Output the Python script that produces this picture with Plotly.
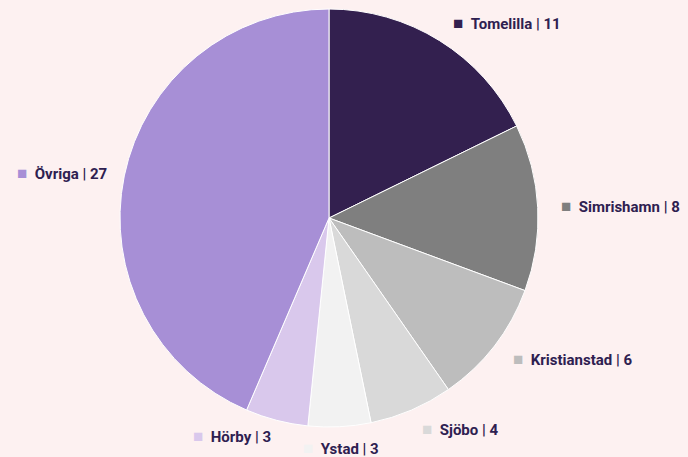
import math
import plotly.graph_objects as go

labels = ["Tomelilla", "Simrishamn", "Kristianstad", "Sjöbo", "Ystad", "Hörby", "Övriga"]
values = [11, 8, 6, 4, 3, 3, 27]
colors = ["#33204f", "#7f7f7f", "#bdbdbd", "#d9d9d9", "#f2f2f2", "#d9c8ec", "#a78fd6"]

W, H = 688, 457
BG = "#fdf1f1"
cx, cy, r = 329, 218, 209
r_lab_right = 230
r_lab_left = 225

fig = go.Figure(go.Pie(
    labels=labels,
    values=values,
    textinfo="none",
    sort=False,
    direction="clockwise",
    rotation=0,
    marker=dict(colors=colors, line=dict(color="#ffffff", width=1)),
    hoverinfo="label+value",
    showlegend=False,
    domain=dict(x=[(cx - r) / W, (cx + r) / W], y=[(H - cy - r) / H, (H - cy + r) / H]),
))

# outside labels placed at the mid-angle of each slice (derived from the values)
total = sum(values)
cum = 0
for l, v, c in zip(labels, values, colors):
    ang = (cum + v / 2) / total * 2 * math.pi
    cum += v
    s, co = math.sin(ang), math.cos(ang)
    if s > 0.2:
        xa, rl = "left", r_lab_right
    elif s < -0.2:
        xa, rl = "right", r_lab_left
    else:
        xa, rl = "center", r_lab_right
    px = cx + rl * s
    py = cy - rl * co
    fig.add_annotation(
        x=px / W, y=1 - py / H, xref="paper", yref="paper",
        xanchor=xa, yanchor="middle", showarrow=False,
        text=f"<span style='color:{c};font-size:17px'>■</span>\u00a0\u00a0{l} | {v}",
        font=dict(family="Roboto", size=15, color="#2e2050", weight="bold"),
    )

fig.update_layout(
    width=W, height=H,
    margin=dict(l=0, r=0, t=0, b=0),
    paper_bgcolor=BG,
    plot_bgcolor=BG,
    font=dict(family="Roboto"),
)

fig.write_html(
    "out.html",
    config={"displayModeBar": False},
    post_script=f"document.body.style.margin='0';document.body.style.background='{BG}';document.body.style.overflow='hidden';",
)
